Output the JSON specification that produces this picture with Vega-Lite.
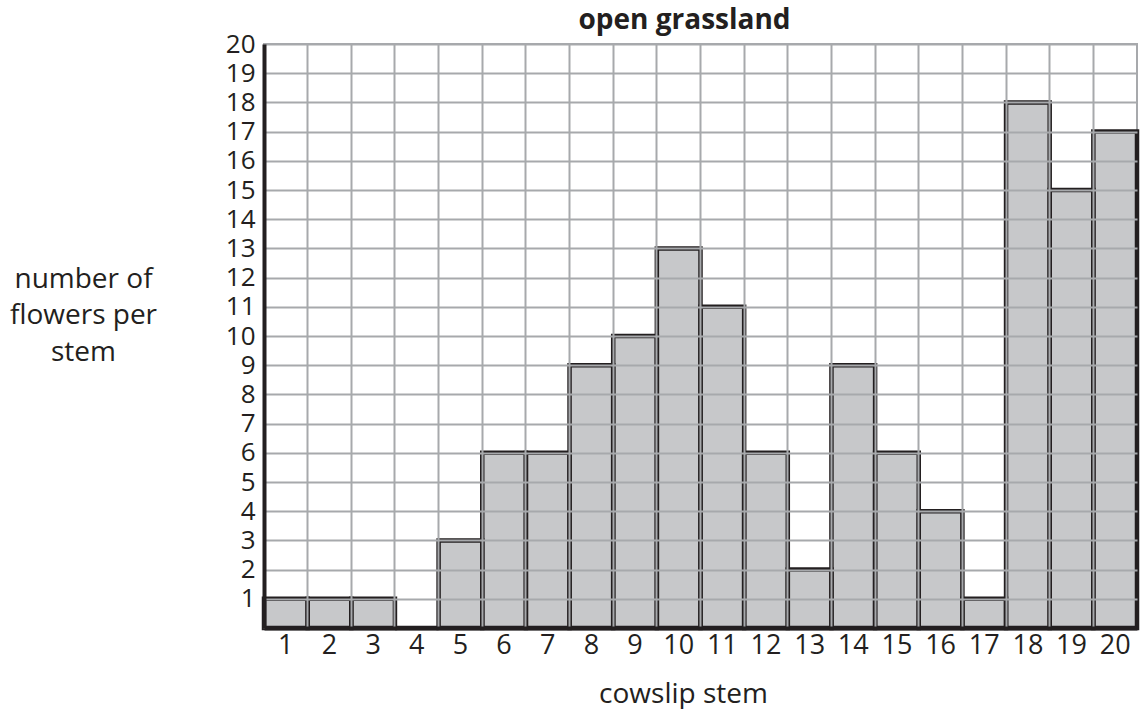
{
  "$schema": "https://vega.github.io/schema/vega-lite/v6.json",
  "width": 873,
  "height": 584,
  "autosize": "none",
  "padding": {"left": 264, "top": 44, "right": 5, "bottom": 81},
  "background": "white",
  "view": {"stroke": "#a7a9ac", "strokeWidth": 2},
  "title": {
    "text": "open grassland",
    "font": "Open Sans",
    "fontSize": 28,
    "fontWeight": "bold",
    "color": "#231f20",
    "anchor": "middle",
    "offset": 1,
    "dy": 5,
    "dx": -16
  },
  "data": {
    "values": [
      {"stem": 1, "flowers": 1},
      {"stem": 2, "flowers": 1},
      {"stem": 3, "flowers": 1},
      {"stem": 4, "flowers": 0},
      {"stem": 5, "flowers": 3},
      {"stem": 6, "flowers": 6},
      {"stem": 7, "flowers": 6},
      {"stem": 8, "flowers": 9},
      {"stem": 9, "flowers": 10},
      {"stem": 10, "flowers": 13},
      {"stem": 11, "flowers": 11},
      {"stem": 12, "flowers": 6},
      {"stem": 13, "flowers": 2},
      {"stem": 14, "flowers": 9},
      {"stem": 15, "flowers": 6},
      {"stem": 16, "flowers": 4},
      {"stem": 17, "flowers": 1},
      {"stem": 18, "flowers": 18},
      {"stem": 19, "flowers": 15},
      {"stem": 20, "flowers": 17}
    ]
  },
  "encoding": {
    "x": {
      "field": "stem",
      "type": "ordinal",
      "scale": {"paddingInner": 0, "paddingOuter": 0},
      "axis": {
        "title": "cowslip stem",
        "labelAngle": 0,
        "labelFont": "Open Sans",
        "labelFontSize": 27,
        "labelColor": "#231f20",
        "labelPadding": 4,
        "titleFont": "Open Sans",
        "titleFontSize": 28,
        "titleFontWeight": "normal",
        "titleColor": "#231f20",
        "titleX": 419,
        "titleY": 74,
        "titleAlign": "center",
        "titleBaseline": "alphabetic",
        "ticks": false,
        "grid": true,
        "bandPosition": 0,
        "gridColor": "#a7a9ac",
        "gridWidth": 2,
        "gridOpacity": 1,
        "domainColor": "#231f20",
        "domainWidth": 4,
        "zindex": 1
      }
    },
    "y": {
      "field": "flowers",
      "type": "quantitative",
      "scale": {"domain": [0, 20], "nice": false},
      "axis": {
        "values": [1, 2, 3, 4, 5, 6, 7, 8, 9, 10, 11, 12, 13, 14, 15, 16, 17, 18, 19, 20],
        "title": ["number of", "flowers per", "stem"],
        "titleAngle": 0,
        "titleAlign": "center",
        "titleBaseline": "alphabetic",
        "titleX": -181,
        "titleY": 243,
        "titleLineHeight": 36.5,
        "titleFont": "Open Sans",
        "titleFontSize": 28,
        "titleFontWeight": "normal",
        "titleColor": "#231f20",
        "labelFont": "Open Sans",
        "labelFontSize": 26,
        "labelColor": "#231f20",
        "labelPadding": 9,
        "labelOverlap": false,
        "ticks": false,
        "grid": true,
        "gridColor": "#a7a9ac",
        "gridWidth": 2,
        "gridOpacity": 1,
        "domainColor": "#231f20",
        "domainWidth": 4,
        "zindex": 1
      }
    }
  },
  "layer": [
    {
      "mark": {"type": "bar", "fill": "#c7c8ca", "stroke": null, "zindex": 0}
    },
    {
      "mark": {"type": "bar", "fill": null, "fillOpacity": 0, "stroke": "#231f20", "strokeWidth": 4.5, "zindex": 2}
    }
  ]
}
